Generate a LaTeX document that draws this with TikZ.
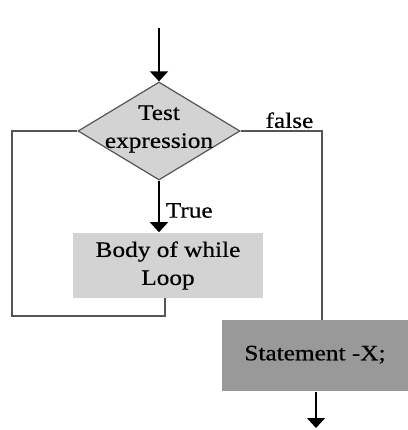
\documentclass[tikz,border=0pt]{standalone}
\usepackage{fontspec}
\setmainfont{Liberation Serif}[FakeStretch=1.15,FakeBold=0.6]
\usepackage{tikz}
\usetikzlibrary{arrows.meta}
\usetikzlibrary{shapes.geometric}
\usetikzlibrary{positioning}

\definecolor{boxgray}{HTML}{D3D3D3}
\definecolor{stmgray}{HTML}{999999}
\definecolor{linegray}{HTML}{555555}

\begin{document}
\begin{tikzpicture}[x=1pt,y=-1pt,>={Triangle[width=18pt,length=10pt]},
                    line width=1.6pt,
                    font=\fontsize{22}{28}\selectfont,
                    decision/.style={diamond,draw=linegray,fill=boxgray,line width=1.2pt,
                                     minimum width=162pt,minimum height=98pt,inner sep=0pt},
                    body box/.style={rectangle,fill=boxgray,minimum width=190pt,minimum height=65pt,align=center},
                    stm box/.style={rectangle,fill=stmgray,minimum width=186pt,minimum height=71pt},
                    loop line/.style={draw=linegray,line width=1.8pt,-}]

        \useasboundingbox (0,0) rectangle (407,430);
        \coordinate (start) at (159,28);
        \node[decision] (test) at (159,131) {};
        \node[align=center] (testtxt) at (159,129) {Test\\expression};
        \node[body box] (body) at (168,265.5) {Body of while\\Loop};
        \node[stm box] (stm) at (315,355.5) {\raisebox{5pt}{Statement -X;}};
        \coordinate (end) at (316,428);

        % arrows
        \draw[->] (start) -- (test.north);
        \draw[->] (test.south) -- (test.south |- body.north) node[pos=0.58,right,inner sep=6pt] {True};
        \draw[->] (stm.south -| end) -- (end);

        % loop back and false branch
        \path[loop line] (test.west) -- (12,131) -- (12,316) -| (165,298);
        \path[loop line] (test.east) -- (322,131) node[pos=0.6,above,inner sep=2pt] {false} -- (322,320);
    \end{tikzpicture}
\end{document}
